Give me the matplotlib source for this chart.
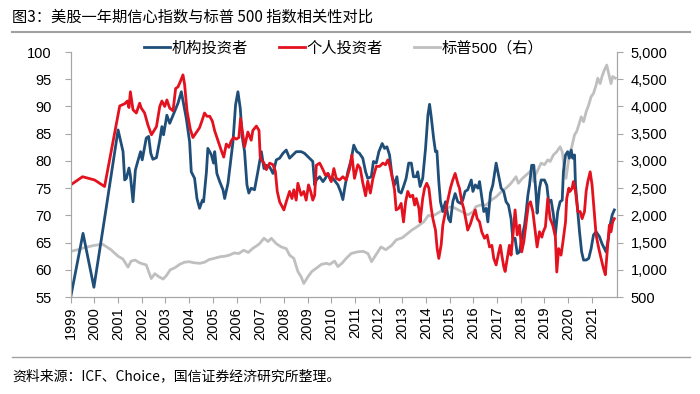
import matplotlib
matplotlib.use("Agg")
import matplotlib.pyplot as plt
from matplotlib.lines import Line2D
from matplotlib.ticker import FuncFormatter, MultipleLocator

plt.rcParams['font.family'] = ['Liberation Sans', 'Noto Sans CJK SC', 'DejaVu Sans']

# 机构投资者 (left axis) as (decimal year, value)
inst_year = [1999.00, 1999.52, 1999.98, 2000.45, 2001.00, 2001.21, 2001.28, 2001.35, 2001.46, 2001.52,
             2001.63, 2001.73, 2001.81, 2001.95, 2002.02, 2002.19, 2002.29, 2002.38, 2002.47, 2002.62,
             2002.76, 2002.85, 2002.92, 2003.06, 2003.18, 2003.32, 2003.53, 2003.67, 2003.81, 2003.88,
             2004.02, 2004.09, 2004.23, 2004.33, 2004.44, 2004.56, 2004.61, 2004.73, 2004.79, 2004.94,
             2005.03, 2005.08, 2005.17, 2005.29, 2005.43, 2005.50, 2005.64, 2005.71, 2005.85, 2005.96,
             2006.06, 2006.16, 2006.24, 2006.34, 2006.44, 2006.52, 2006.62, 2006.76, 2006.90, 2007.05,
             2007.16, 2007.26, 2007.40, 2007.54, 2007.68, 2007.82, 2007.96, 2008.10, 2008.24, 2008.38,
             2008.52, 2008.73, 2008.87, 2009.08, 2009.22, 2009.30, 2009.37, 2009.51, 2009.65, 2009.75,
             2009.86, 2009.97, 2010.07, 2010.28, 2010.39, 2010.49, 2010.59, 2010.70, 2010.84, 2010.95,
             2011.08, 2011.19, 2011.33, 2011.45, 2011.54, 2011.69, 2011.78, 2011.90, 2012.01, 2012.15,
             2012.25, 2012.35, 2012.46, 2012.57, 2012.67, 2012.77, 2012.85, 2012.95, 2013.05, 2013.16,
             2013.27, 2013.38, 2013.47, 2013.59, 2013.65, 2013.75, 2013.86, 2013.98, 2014.08, 2014.15,
             2014.22, 2014.32, 2014.40, 2014.46, 2014.54, 2014.61, 2014.71, 2014.82, 2014.95, 2015.03,
             2015.13, 2015.23, 2015.34, 2015.46, 2015.55, 2015.65, 2015.76, 2015.91, 2015.98, 2016.08,
             2016.19, 2016.26, 2016.35, 2016.44, 2016.54, 2016.61, 2016.72, 2016.82, 2016.96, 2017.06,
             2017.17, 2017.28, 2017.38, 2017.48, 2017.59, 2017.66, 2017.76, 2017.85, 2017.95, 2018.04,
             2018.16, 2018.23, 2018.30, 2018.37, 2018.46, 2018.55, 2018.65, 2018.69, 2018.79, 2018.86,
             2019.00, 2019.10, 2019.18, 2019.28, 2019.38, 2019.46, 2019.56, 2019.66, 2019.75, 2019.80,
             2019.89, 2019.98, 2020.05, 2020.13, 2020.19, 2020.27, 2020.31, 2020.41, 2020.48, 2020.57,
             2020.65, 2020.76, 2020.87, 2020.97, 2021.07, 2021.18, 2021.32, 2021.43, 2021.53, 2021.60,
             2021.70, 2021.77, 2021.86, 2021.95]
inst_val = [55.0, 66.7, 56.8, 70.0, 85.7, 81.7, 76.5, 76.8, 78.7, 77.3,
            72.5, 78.3, 79.6, 81.7, 80.2, 84.2, 84.5, 81.4, 80.3, 80.6,
            83.8, 86.3, 84.8, 88.4, 86.9, 88.4, 90.6, 92.7, 89.4, 87.8,
            83.5, 78.0, 76.8, 73.1, 71.3, 72.8, 72.5, 78.0, 82.3, 81.1,
            79.6, 81.7, 77.7, 76.2, 74.7, 73.1, 75.9, 78.4, 83.5, 90.3,
            92.7, 89.6, 84.4, 81.7, 75.6, 74.1, 75.0, 74.7, 78.0, 81.7,
            78.6, 79.2, 78.9, 77.7, 80.2, 80.5, 81.4, 82.0, 80.5, 81.1,
            81.7, 81.7, 81.4, 80.5, 79.9, 75.6, 76.5, 77.1, 76.2, 76.8,
            77.7, 76.5, 76.8, 75.6, 74.4, 72.9, 75.6, 78.0, 80.2, 82.9,
            81.7, 81.4, 80.5, 78.0, 76.8, 77.1, 79.9, 79.6, 81.7, 83.2,
            82.3, 82.6, 81.1, 77.1, 75.6, 77.1, 74.4, 74.1, 75.3, 76.8,
            79.6, 79.6, 77.1, 77.1, 78.0, 75.3, 76.8, 82.3, 88.4, 90.4,
            88.1, 84.2, 81.7, 81.8, 76.2, 72.5, 70.7, 72.5, 69.4, 68.8,
            72.5, 74.0, 72.5, 72.2, 72.8, 74.4, 74.7, 76.5, 74.4, 75.6,
            75.0, 76.2, 73.5, 70.7, 71.3, 68.8, 74.1, 75.6, 79.6, 77.4,
            75.0, 74.4, 72.5, 71.9, 69.4, 65.8, 65.8, 63.0, 63.3, 65.8,
            68.2, 70.7, 73.7, 75.6, 79.2, 79.2, 73.7, 70.4, 75.0, 76.5,
            76.5, 75.5, 72.4, 72.8, 70.1, 66.4, 70.7, 72.5, 72.8, 78.0,
            81.1, 81.7, 80.5, 82.0, 80.5, 81.1, 75.6, 70.4, 67.0, 63.3,
            61.8, 61.8, 62.1, 63.9, 66.4, 67.0, 66.1, 64.8, 63.9, 63.3,
            65.8, 68.2, 70.1, 71.0]

# 个人投资者 (left axis)
indiv_year = [1999.00, 1999.50, 2000.01, 2000.43, 2001.07, 2001.28, 2001.39, 2001.46, 2001.52, 2001.63,
              2001.77, 2001.91, 2001.98, 2002.12, 2002.26, 2002.41, 2002.62, 2002.76, 2002.85, 2002.97,
              2003.06, 2003.18, 2003.32, 2003.43, 2003.53, 2003.63, 2003.74, 2003.81, 2003.91, 2004.05,
              2004.16, 2004.30, 2004.44, 2004.56, 2004.65, 2004.75, 2004.87, 2004.98, 2005.08, 2005.22,
              2005.36, 2005.46, 2005.57, 2005.68, 2005.78, 2005.88, 2005.99, 2006.10, 2006.17, 2006.34,
              2006.48, 2006.62, 2006.69, 2006.84, 2006.95, 2007.00, 2007.05, 2007.16, 2007.26, 2007.40,
              2007.54, 2007.64, 2007.72, 2007.82, 2008.00, 2008.10, 2008.24, 2008.34, 2008.42, 2008.52,
              2008.59, 2008.73, 2008.84, 2008.94, 2009.04, 2009.13, 2009.22, 2009.30, 2009.37, 2009.51,
              2009.65, 2009.75, 2009.86, 2010.00, 2010.11, 2010.21, 2010.35, 2010.49, 2010.63, 2010.77,
              2010.87, 2010.98, 2011.12, 2011.22, 2011.33, 2011.45, 2011.54, 2011.65, 2011.76, 2011.90,
              2012.04, 2012.18, 2012.29, 2012.39, 2012.46, 2012.57, 2012.67, 2012.74, 2012.85, 2012.95,
              2013.05, 2013.14, 2013.23, 2013.33, 2013.44, 2013.52, 2013.59, 2013.70, 2013.75, 2013.86,
              2013.94, 2014.03, 2014.12, 2014.22, 2014.29, 2014.40, 2014.47, 2014.54, 2014.64, 2014.71,
              2014.82, 2014.92, 2015.03, 2015.13, 2015.23, 2015.34, 2015.41, 2015.51, 2015.59, 2015.70,
              2015.76, 2015.88, 2015.97, 2016.08, 2016.16, 2016.26, 2016.35, 2016.47, 2016.58, 2016.68,
              2016.78, 2016.86, 2016.96, 2017.06, 2017.14, 2017.20, 2017.28, 2017.34, 2017.43, 2017.52,
              2017.59, 2017.66, 2017.76, 2017.85, 2017.95, 2018.04, 2018.13, 2018.23, 2018.32, 2018.41,
              2018.51, 2018.61, 2018.69, 2018.79, 2018.89, 2018.95, 2019.04, 2019.14, 2019.24, 2019.35,
              2019.46, 2019.52, 2019.60, 2019.70, 2019.77, 2019.89, 2019.94, 2020.03, 2020.08, 2020.17,
              2020.22, 2020.31, 2020.41, 2020.51, 2020.59, 2020.69, 2020.76, 2020.83, 2020.93, 2021.01,
              2021.11, 2021.18, 2021.29, 2021.39, 2021.49, 2021.57, 2021.67, 2021.74, 2021.81, 2021.88,
              2021.95]
indiv_val = [75.6, 77.1, 76.5, 75.3, 90.1, 90.5, 91.0, 89.8, 92.7, 89.4,
             88.8, 90.6, 89.7, 88.8, 86.6, 84.8, 86.3, 90.0, 91.0, 90.0,
             91.2, 89.7, 89.2, 93.3, 93.6, 94.6, 95.8, 94.0, 89.2, 85.8,
             84.3, 85.2, 86.1, 87.6, 88.8, 88.2, 88.2, 87.3, 85.5, 83.7,
             81.9, 80.7, 83.1, 82.5, 83.7, 84.3, 84.0, 84.3, 87.8, 82.6,
             85.3, 83.8, 85.6, 86.4, 85.6, 80.8, 80.2, 79.6, 78.4, 79.6,
             79.3, 78.1, 74.4, 72.5, 71.0, 72.5, 74.4, 73.1, 74.7, 72.8,
             75.9, 73.7, 74.4, 72.8, 75.6, 74.4, 72.8, 73.7, 79.2, 79.6,
             78.4, 77.4, 77.7, 76.2, 78.6, 76.8, 76.5, 77.1, 76.5, 78.5,
             81.1, 76.8, 79.3, 78.7, 76.0, 73.6, 76.3, 74.1, 76.8, 79.0,
             79.0, 79.6, 79.3, 80.2, 79.3, 77.1, 74.7, 71.0, 71.3, 72.2,
             68.8, 72.5, 74.4, 73.4, 73.7, 71.9, 73.1, 71.3, 68.8, 73.1,
             75.0, 75.9, 75.0, 71.3, 69.4, 67.3, 63.9, 62.1, 64.6, 68.2,
             70.7, 72.8, 75.0, 76.5, 77.7, 75.9, 75.0, 72.5, 71.3, 68.8,
             67.3, 68.5, 69.8, 71.0, 69.4, 68.8, 67.0, 65.8, 66.4, 64.2,
             64.5, 62.1, 60.9, 63.0, 64.5, 62.7, 60.6, 59.7, 62.1, 64.5,
             62.7, 65.8, 71.0, 66.4, 68.2, 63.3, 65.2, 68.8, 71.9, 72.5,
             70.7, 67.0, 64.2, 67.0, 66.0, 67.0, 67.9, 73.1, 69.4, 68.2,
             66.1, 59.6, 63.9, 62.7, 64.8, 68.8, 73.1, 75.0, 74.4, 75.0,
             76.2, 74.4, 70.7, 70.7, 69.4, 70.7, 74.4, 76.2, 78.0, 75.6,
             70.1, 66.4, 64.0, 62.1, 60.3, 59.1, 64.5, 68.2, 67.0, 68.8,
             69.4]

# 标普500 (right axis)
spx_year = [1999.00, 1999.30, 1999.60, 2000.00, 2000.35, 2000.70, 2001.00, 2001.20, 2001.42, 2001.55,
            2001.72, 2001.90, 2002.19, 2002.40, 2002.55, 2002.70, 2002.90, 2003.05, 2003.20, 2003.40,
            2003.60, 2003.80, 2004.00, 2004.20, 2004.45, 2004.65, 2004.85, 2005.05, 2005.30, 2005.50,
            2005.70, 2005.90, 2006.10, 2006.30, 2006.50, 2006.70, 2006.85, 2006.97, 2007.16, 2007.33,
            2007.47, 2007.68, 2007.89, 2008.10, 2008.24, 2008.42, 2008.59, 2008.73, 2008.84, 2009.01,
            2009.18, 2009.37, 2009.58, 2009.79, 2009.93, 2010.14, 2010.28, 2010.45, 2010.63, 2010.84,
            2011.10, 2011.35, 2011.55, 2011.70, 2011.85, 2012.10, 2012.30, 2012.55, 2012.74, 2013.00,
            2013.20, 2013.40, 2013.65, 2013.90, 2014.10, 2014.30, 2014.60, 2014.78, 2015.10, 2015.50,
            2015.77, 2016.00, 2016.10, 2016.30, 2016.54, 2016.75, 2016.96, 2017.17, 2017.38, 2017.59,
            2017.80, 2017.90, 2018.07, 2018.30, 2018.46, 2018.55, 2018.62, 2018.72, 2018.86, 2019.00,
            2019.14, 2019.24, 2019.38, 2019.52, 2019.66, 2019.75, 2019.84, 2019.91, 2020.03, 2020.17,
            2020.27, 2020.36, 2020.45, 2020.55, 2020.65, 2020.76, 2020.87, 2020.97, 2021.07, 2021.18,
            2021.25, 2021.35, 2021.43, 2021.53, 2021.63, 2021.71, 2021.81, 2021.88, 2021.99]
spx_val = [1340, 1370, 1410, 1450, 1470, 1370, 1250, 1200, 1050, 1160,
           1180, 1130, 1090, 840, 930, 880, 830, 900, 1000, 1040,
           1100, 1140, 1150, 1130, 1120, 1140, 1190, 1210, 1240, 1250,
           1270, 1310, 1300, 1360, 1320, 1400, 1440, 1480, 1580, 1520,
           1580, 1480, 1420, 1390, 1270, 1210, 970, 870, 750, 870,
           970, 1030, 1100, 1120, 1100, 1160, 1060, 1120, 1210, 1300,
           1330, 1340, 1300, 1150, 1250, 1420, 1370, 1450, 1550, 1590,
           1660, 1730, 1800, 1880, 2000, 1990, 2070, 2130, 2160, 2070,
           2010, 2070, 2160, 2190, 2190, 2280, 2340, 2430, 2500, 2590,
           2710, 2590, 2680, 2770, 2830, 2620, 2740, 2830, 2960, 2930,
           3020, 2990, 3110, 3170, 3260, 3170, 2860, 2680, 3050, 3290,
           3480, 3540, 3660, 3810, 3720, 3900, 4030, 4180, 4240, 4390,
           4520, 4420, 4550, 4670, 4760, 4610, 4420, 4550, 4520]

years = list(range(1999, 2022))

fig = plt.figure(figsize=(7, 3.94), dpi=100)
ax = fig.add_axes([0.101, 0.246, 0.780, 0.622])
ax2 = ax.twinx()

l1, = ax.plot(inst_year, inst_val, color='#1F4E79', lw=2, label='机构投资者')
l2, = ax.plot(indiv_year, indiv_val, color='#E3121E', lw=2, label='个人投资者')
l3, = ax2.plot(spx_year, spx_val, color='#BFBFBF', lw=2, label='标普500（右）')

# keep the index line behind the survey lines
ax.set_zorder(ax2.get_zorder() + 1)
ax.patch.set_visible(False)

ax.set_xlim(1999, 2022.05)
ax.set_ylim(55, 100)
ax2.set_ylim(500, 5000)
ax.yaxis.set_major_locator(MultipleLocator(5))
ax2.yaxis.set_major_locator(MultipleLocator(500))
ax2.yaxis.set_major_formatter(FuncFormatter(lambda v, p: f'{int(v):,}'))
ax.set_xticks(years)
ax.set_xticklabels([str(y) for y in years], rotation=90)

spine_c = '#A6A6A6'
for a in (ax, ax2):
    a.spines['top'].set_visible(False)
    for s in ('left', 'right', 'bottom'):
        a.spines[s].set_color(spine_c)
ax.tick_params(axis='y', direction='out', length=4, color=spine_c, labelsize=10.5, pad=10)
ax2.tick_params(axis='y', direction='out', length=4, color=spine_c, labelsize=10.5, pad=6)
ax.tick_params(axis='x', direction='out', length=4, color=spine_c, labelsize=10.5, pad=3)

ax.legend(handles=[l1, l2, l3], loc='center', bbox_to_anchor=(0.5, 1.015), ncol=3,
          frameon=False, fontsize=11, handlelength=1.7, handletextpad=0.15,
          columnspacing=2.0, borderaxespad=0)

fig.text(0.017, 0.957, '图3：美股一年期信心指数与标普 500 指数相关性对比', fontsize=11,
         va='center', ha='left', family=['Noto Sans CJK SC', 'DejaVu Sans'])
fig.add_artist(Line2D([0.017, 0.986], [0.919, 0.919], color='#A0A0A0', lw=1.5))
fig.add_artist(Line2D([0.017, 0.986], [0.094, 0.094], color='#A0A0A0', lw=1.0))
fig.text(0.017, 0.046, '资料来源：ICF、Choice，国信证券经济研究所整理。', fontsize=10,
         va='center', ha='left', family=['Noto Sans CJK SC', 'DejaVu Sans'])

fig.savefig('out.png', dpi=100)
